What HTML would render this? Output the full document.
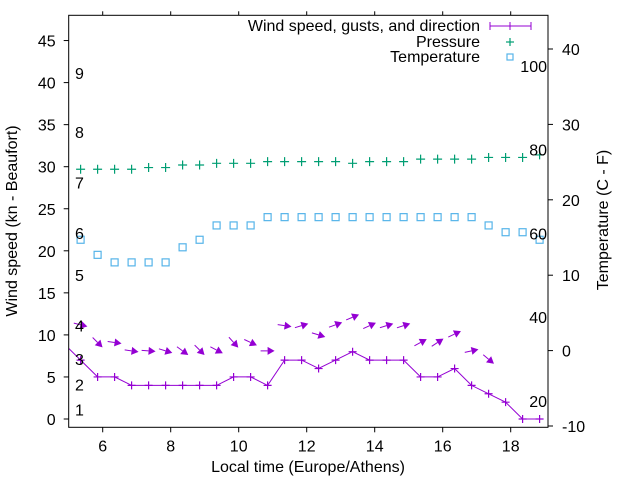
<!DOCTYPE html>
<html><head><meta charset="utf-8">
<style>
body{margin:0;background:#fff;}
svg{display:block;font-family:"Liberation Sans",sans-serif;}
</style></head>
<body>
<svg id="chart" width="640" height="480" viewBox="0 0 640 480" xmlns="http://www.w3.org/2000/svg">
<rect width="640" height="480" fill="#fff"/>
<g id="marks"></g>
<rect x="68.7" y="15.3" width="479.3" height="412" fill="none" stroke="#000" stroke-width="1"/>
<g id="axes" font-size="16" fill="#000"></g>
<text x="308" y="472" font-size="16" text-anchor="middle">Local time (Europe/Athens)</text>
<text transform="translate(17,221) rotate(-90)" font-size="16" text-anchor="middle">Wind speed (kn - Beaufort)</text>
<text transform="translate(608,220) rotate(-90)" font-size="16" text-anchor="middle">Temperature (C - F)</text>
<g font-size="16">
<text x="480" y="31" text-anchor="end">Wind speed, gusts, and direction</text>
<g stroke="#9400d3" stroke-width="1"><line x1="490" y1="26" x2="531" y2="26"/><line x1="490" y1="22" x2="490" y2="30"/><line x1="531" y1="22" x2="531" y2="30"/><line x1="510" y1="22" x2="510" y2="30"/></g>
<text x="480" y="47" text-anchor="end">Pressure</text>
<g stroke="#009e73" stroke-width="1.2"><line x1="506" y1="42" x2="514" y2="42"/><line x1="510" y1="38" x2="510" y2="46"/></g>
<text x="480" y="62" text-anchor="end">Temperature</text>
<rect x="507" y="54" width="6" height="6" fill="none" stroke="#56b4e9" stroke-width="1.2"/>
</g>
</svg>
<script>
const times = [4.85,5.35,5.85,6.35,6.85,7.35,7.85,8.35,8.85,9.35,9.85,10.35,10.85,11.35,11.85,12.35,12.85,13.35,13.85,14.35,14.85,15.35,15.85,16.35,16.85,17.35,17.85,18.35,18.85];
const windSpeed = [9,7,5,5,4,4,4,4,4,4,5,5,4,7,7,6,7,8,7,7,7,5,5,6,4,3,2,0,0];
const gustTimes = [5.35,5.85,6.35,6.85,7.35,7.85,8.35,8.85,9.35,9.85,10.35,10.85,11.35,11.85,12.35,12.85,13.35,13.85,14.35,14.85,15.35,15.85,16.35,16.85,17.35];
const gusts = [11.2,9.1,9.1,8.1,8.1,8.1,8.1,8.2,8.2,9.1,9.1,8.1,11.1,11.1,10,11.2,12.1,11.1,11.1,11.1,9.1,9.1,10.1,8.1,7.1];
const windDirDeg = [14,45,8,8,4,17,36,45,27,48,25,0,8,-17,17,-20,-23,-25,-17,-18,-28,-33,-25,-12,40];
const obsTimes = [5.35,5.85,6.35,6.85,7.35,7.85,8.35,8.85,9.35,9.85,10.35,10.85,11.35,11.85,12.35,12.85,13.35,13.85,14.35,14.85,15.35,15.85,16.35,16.85,17.35,17.85,18.35,18.85];
const pressure = [29.7,29.7,29.7,29.7,29.9,29.9,30.2,30.2,30.4,30.4,30.4,30.6,30.6,30.6,30.6,30.6,30.4,30.6,30.6,30.6,30.9,30.9,30.9,30.9,31.1,31.1,31.1,31.4];
const temperature = [14.7,12.7,11.7,11.7,11.7,11.7,13.7,14.7,16.6,16.6,16.6,17.7,17.7,17.7,17.7,17.7,17.7,17.7,17.7,17.7,17.7,17.7,17.7,17.7,16.6,15.7,15.7,14.7];
const xTicks = [6,8,10,12,14,16,18];
const yTicks = [0,5,10,15,20,25,30,35,40,45];
const y2Ticks = [-10,0,10,20,30,40];
const beaufortLevels = [1,4,7,11,17,22,28,34,41];
const beaufortLabels = ["1","2","3","4","5","6","7","8","9"];
const fahrenheitTicks = [20,40,60,80,100];

const NS="http://www.w3.org/2000/svg";
const L=68.7,R=548,T=15.3,B=427.3;
function xs(t){return 102.7+(t-6)*34;}
function ys(v){return 419-v*8.41;}
function y2s(c){return 350.6-c*7.54;}
function mk(tag,attrs,parent){const e=document.createElementNS(NS,tag);for(const k in attrs)e.setAttribute(k,attrs[k]);parent.appendChild(e);return e;}
const marks=document.getElementById('marks');
const axes=document.getElementById('axes');
const defs=mk('defs',{},marks);
const cp=mk('clipPath',{id:'clip'},defs);
mk('rect',{x:L,y:T,width:R-L,height:B-T},cp);
const g=mk('g',{'clip-path':'url(#clip)'},marks);

let d='';
times.forEach((t,i)=>{d+=(i?'L':'M')+xs(t).toFixed(1)+' '+ys(windSpeed[i]).toFixed(1);});
const wl=mk('path',{d:d,fill:'none',stroke:'#9400d3','stroke-width':1},g);


times.forEach((t,i)=>{
  const x=xs(t),y=ys(windSpeed[i]);
  const p=mk('path',{d:`M${x-4} ${y}H${x+4}M${x} ${y-4}V${y+4}`,stroke:'#9400d3','stroke-width':1.2},g);
  
  
});
gustTimes.forEach((t,i)=>{
  const cx=xs(t),cy=ys(gusts[i]),a=windDirDeg[i]*Math.PI/180,len=14;
  const dx=Math.cos(a),dy=Math.sin(a);
  const x1=cx-dx*len/2,y1=cy-dy*len/2,x2=cx+dx*len/2,y2=cy+dy*len/2;
  const px=-dy,py=dx,h=7,w=4;
  const bx=x2-dx*h,by=y2-dy*h;
  const ag=mk('g',{},g);
  
  
  mk('line',{x1:x1,y1:y1,x2:bx,y2:by,stroke:'#9400d3','stroke-width':1},ag);
  mk('polygon',{points:`${x2},${y2} ${bx+px*w},${by+py*w} ${bx-px*w},${by-py*w}`,fill:'#9400d3'},ag);
});
obsTimes.forEach((t,i)=>{
  const x=xs(t),y=ys(pressure[i]);
  const p=mk('path',{d:`M${x-4.5} ${y}H${x+4.5}M${x} ${y-4.5}V${y+4.5}`,stroke:'#009e73','stroke-width':1.2},g);
  
  
});
obsTimes.forEach((t,i)=>{
  const x=xs(t),y=y2s(temperature[i]);
  const r=mk('rect',{x:x-3.5,y:y-3.5,width:7,height:7,fill:'none',stroke:'#56b4e9','stroke-width':1.2},g);
  
  
});
beaufortLevels.forEach((v,i)=>{
  const tx=mk('text',{x:75,y:ys(v)+5,'font-size':16},marks);
  tx.textContent=beaufortLabels[i];
  
  
});
fahrenheitTicks.forEach(f=>{
  const tx=mk('text',{x:547,y:y2s((f-32)*5/9)+6,'font-size':16,'text-anchor':'end'},marks);
  tx.textContent=String(f);
  
  
});
xTicks.forEach(t=>{
  const x=xs(t);
  mk('line',{x1:x,y1:B,x2:x,y2:B+5,stroke:'#000'},axes);
  mk('line',{x1:x,y1:T,x2:x,y2:T-4,stroke:'#000'},axes);
  const tx=mk('text',{x:x,y:B+24,'text-anchor':'middle'},axes);
  tx.textContent=String(t);
  
  
});
yTicks.forEach(v=>{
  const y=ys(v);
  mk('line',{x1:L-5,y1:y,x2:L,y2:y,stroke:'#000'},axes);
  const tx=mk('text',{x:L-13,y:y+6,'text-anchor':'end'},axes);
  tx.textContent=String(v);
  
  
});
y2Ticks.forEach(c=>{
  const y=y2s(c);
  mk('line',{x1:R,y1:y,x2:R+5,y2:y,stroke:'#000'},axes);
  const tx=mk('text',{x:R+14,y:y+6,'text-anchor':'start'},axes);
  tx.textContent=String(c);
  
  
});
</script>
</body></html>
